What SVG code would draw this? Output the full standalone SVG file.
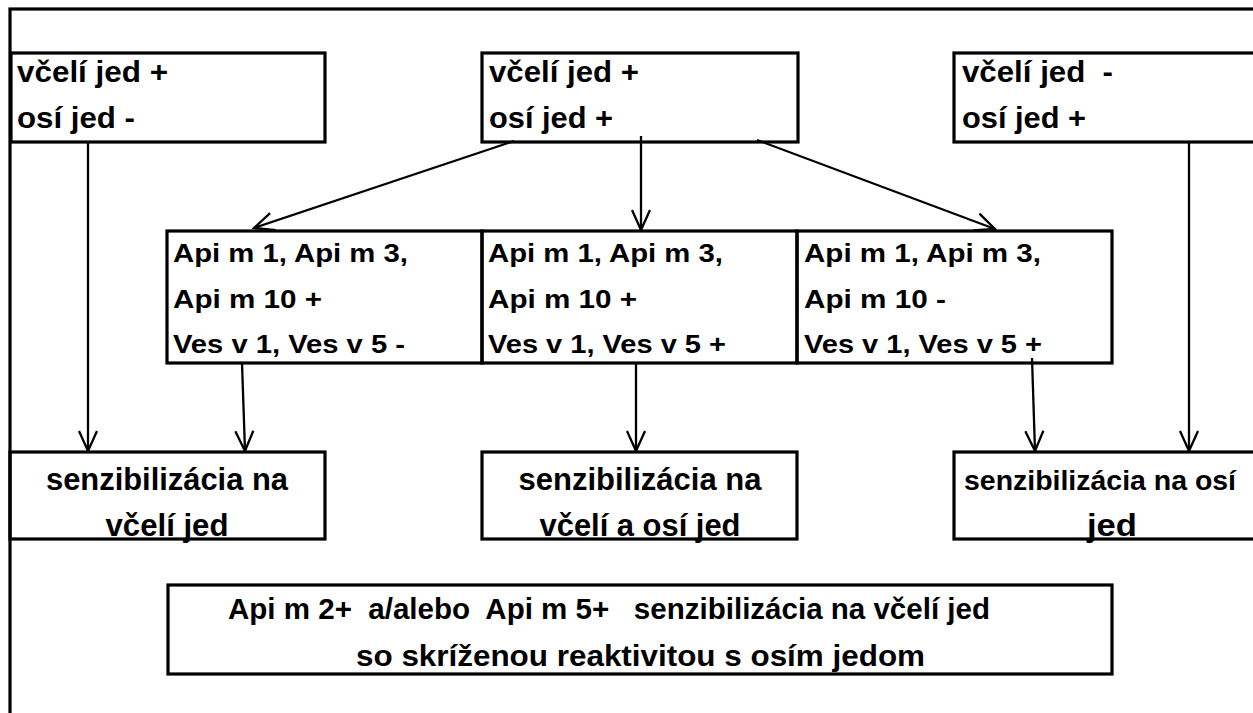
<svg xmlns="http://www.w3.org/2000/svg" width="1253" height="713" viewBox="0 0 1253 713">
<defs>
<style>
.box{fill:none;stroke:#000;stroke-width:3.2}
.t{font-family:"Liberation Sans",Arial,sans-serif;font-weight:bold;fill:#000}
.t27{font-size:29px}
.t24{font-size:26px}
.t29{font-size:31px}
.ts{font-size:29px}
.c{text-anchor:middle}
.con{fill:none;stroke:#000;stroke-width:2.3}
</style>
<marker id="ah" markerUnits="userSpaceOnUse" viewBox="-22 -11 24 22" refX="0" refY="0" markerWidth="24" markerHeight="22" orient="auto">
<path d="M-20,-9 L0,0 L-20,9" fill="none" stroke="#000" stroke-width="2.3"/>
</marker>
</defs>
<rect width="1253" height="713" fill="#fff"/>
<g id="frame"><rect class="box" x="10" y="9" width="1300" height="800"/></g>

<g id="top1">
<rect class="box" x="11" y="53" width="314" height="89"/>
<text class="t t27" x="17" y="82" textLength="151" lengthAdjust="spacingAndGlyphs">včelí jed +</text>
<text class="t t27" x="17" y="128" textLength="118" lengthAdjust="spacingAndGlyphs">osí jed -</text>
</g>
<g id="top2">
<rect class="box" x="482" y="53" width="316" height="89"/>
<text class="t t27" x="489" y="82" textLength="150" lengthAdjust="spacingAndGlyphs">včelí jed +</text>
<text class="t t27" x="489" y="128" textLength="124" lengthAdjust="spacingAndGlyphs">osí jed +</text>
</g>
<g id="top3">
<rect class="box" x="954" y="53" width="320" height="89"/>
<text class="t t27" x="962" y="82" textLength="151" lengthAdjust="spacingAndGlyphs" xml:space="preserve">včelí jed  -</text>
<text class="t t27" x="962" y="128" textLength="124" lengthAdjust="spacingAndGlyphs">osí jed +</text>
</g>

<g id="midA">
<rect class="box" x="167" y="231" width="315" height="132"/>
<text class="t t24" x="173" y="262" textLength="235" lengthAdjust="spacingAndGlyphs">Api m 1, Api m 3,</text>
<text class="t t24" x="173" y="308" textLength="149" lengthAdjust="spacingAndGlyphs">Api m 10 +</text>
<text class="t t24" x="173" y="353" textLength="232" lengthAdjust="spacingAndGlyphs">Ves v 1, Ves v 5 -</text>
</g>
<g id="midB">
<rect class="box" x="482" y="231" width="315" height="132"/>
<text class="t t24" x="488" y="262" textLength="235" lengthAdjust="spacingAndGlyphs">Api m 1, Api m 3,</text>
<text class="t t24" x="488" y="308" textLength="149" lengthAdjust="spacingAndGlyphs">Api m 10 +</text>
<text class="t t24" x="488" y="353" textLength="238" lengthAdjust="spacingAndGlyphs">Ves v 1, Ves v 5 +</text>
</g>
<g id="midC">
<rect class="box" x="797" y="231" width="315" height="132"/>
<text class="t t24" x="804" y="262" textLength="237" lengthAdjust="spacingAndGlyphs">Api m 1, Api m 3,</text>
<text class="t t24" x="804" y="308" textLength="142" lengthAdjust="spacingAndGlyphs">Api m 10 -</text>
<text class="t t24" x="804" y="353" textLength="238" lengthAdjust="spacingAndGlyphs">Ves v 1, Ves v 5 +</text>
</g>

<g id="bot1">
<rect class="box" x="10" y="452" width="315" height="87"/>
<text class="t t29 c" x="167" y="490" textLength="242" lengthAdjust="spacingAndGlyphs">senzibilizácia na</text>
<text class="t t29 c" x="167" y="536" textLength="123" lengthAdjust="spacingAndGlyphs">včelí jed</text>
</g>
<g id="bot2">
<rect class="box" x="482" y="452" width="315" height="87"/>
<text class="t t29 c" x="640" y="490" textLength="243" lengthAdjust="spacingAndGlyphs">senzibilizácia na</text>
<text class="t t29 c" x="640" y="536" textLength="201" lengthAdjust="spacingAndGlyphs">včelí a osí jed</text>
</g>
<g id="bot3">
<rect class="box" x="954" y="452" width="320" height="87"/>
<text class="t" style="font-size:28px" x="964" y="490" textLength="272" lengthAdjust="spacingAndGlyphs">senzibilizácia na osí</text>
<text class="t t29 c" x="1112" y="536" textLength="50" lengthAdjust="spacingAndGlyphs">jed</text>
</g>

<g id="summary">
<rect class="box" x="168" y="585" width="944" height="89"/>
<text class="t ts" x="228" y="619" textLength="762" lengthAdjust="spacingAndGlyphs" xml:space="preserve">Api m 2+  a/alebo  Api m 5+   senzibilizácia na včelí jed</text>
<text class="t ts" x="356" y="666" textLength="569" lengthAdjust="spacingAndGlyphs">so skríženou reaktivitou s osím jedom</text>
</g>

<g id="connectors">
<line class="con" x1="88" y1="142" x2="88" y2="451" marker-end="url(#ah)"/>
<line class="con" x1="242" y1="363" x2="245" y2="451" marker-end="url(#ah)"/>
<line class="con" x1="514" y1="141" x2="254" y2="228" marker-end="url(#ah)"/>
<line class="con" x1="641" y1="136" x2="641" y2="230" marker-end="url(#ah)"/>
<line class="con" x1="757" y1="140" x2="995" y2="229" marker-end="url(#ah)"/>
<line class="con" x1="636" y1="363" x2="636" y2="451" marker-end="url(#ah)"/>
<line class="con" x1="1032" y1="358" x2="1035" y2="451" marker-end="url(#ah)"/>
<line class="con" x1="1189" y1="142" x2="1189" y2="451" marker-end="url(#ah)"/>
</g>
</svg>
